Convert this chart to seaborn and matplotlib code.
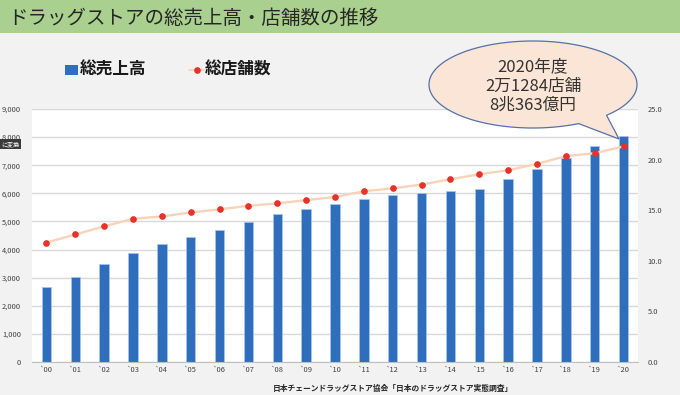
import numpy as np
import pandas as pd
import matplotlib
matplotlib.use("Agg")
import matplotlib.pyplot as plt
import seaborn as sns
from matplotlib.patches import Rectangle, Polygon
from matplotlib.lines import Line2D
from matplotlib.ticker import FuncFormatter, FixedLocator

# ---------------- data ----------------
years = ["`00", "`01", "`02", "`03", "`04", "`05", "`06", "`07", "`08", "`09", "`10",
         "`11", "`12", "`13", "`14", "`15", "`16", "`17", "`18", "`19", "`20"]
# total sales (unit: 10億円)
sales = [2655, 3012, 3500, 3893, 4214, 4464, 4679, 4976, 5250, 5452, 5631,
         5810, 5940, 6012, 6083, 6143, 6500, 6857, 7274, 7690, 8036]
# total stores (unit: 1000 stores)
stores = [11.8, 12.6, 13.4, 14.15, 14.38, 14.78, 15.08, 15.44, 15.67, 16.0, 16.3,
          16.87, 17.16, 17.53, 18.06, 18.55, 18.95, 19.58, 20.34, 20.63, 21.3]

title = "ドラッグストアの総売上高・店舗数の推移"
legend_labels = ["総売上高", "総店舗数"]
callout_lines = ["2020年度", "2万1284店舗", "8兆363億円"]
source = "日本チェーンドラッグストア協会「日本のドラッグストア実態調査」"
left_ticks = list(range(0, 9001, 1000))
right_ticks = [0, 5, 10, 15, 20, 25]

df = pd.DataFrame({"year": years, "sales": sales, "stores": stores})

# ---------------- style ----------------
sns.set_style("white")
plt.rcParams["font.family"] = ["Noto Sans CJK JP", "DejaVu Sans"]

W, H = 680, 395
fig = plt.figure(figsize=(W / 100, H / 100), dpi=100, facecolor="#f2f2f2")

BAR = "#2e6ebd"
LINE = "#f9d3b8"
DOT = "#e8312a"
TICK = "#404040"

L, R, T, B = 32, 638, 109, 362
ax = fig.add_axes([L / W, 1 - B / H, (R - L) / W, (B - T) / H])
ax.set_facecolor("white")

sns.barplot(data=df, x="year", y="sales", ax=ax, color=BAR, width=0.33,
            saturation=1, edgecolor="#a8c6ea", linewidth=0.5, zorder=2)
ax.set_xlim(-0.5, len(years) - 0.5)
ax.set_ylim(0, 9000)
ax.yaxis.set_major_locator(FixedLocator(left_ticks))
ax.yaxis.set_major_formatter(FuncFormatter(lambda v, p: f"{int(v):,}"))
ax.grid(axis="y", color="#d9d9d9", linewidth=1, zorder=0)
ax.set_axisbelow(True)
for s in ["left", "right", "top"]:
    ax.spines[s].set_visible(False)
ax.spines["bottom"].set_color("#bfbfbf")
ax.spines["bottom"].set_linewidth(0.8)
ax.set_xlabel("")
ax.set_ylabel("")
ax.tick_params(axis="y", length=0, pad=8, labelsize=5.4, labelcolor=TICK)
ax.tick_params(axis="x", which="major", length=0, pad=3, labelsize=5.4, labelcolor=TICK)
ax.set_xticks(np.arange(-0.5, len(years), 1.0), minor=True)
ax.tick_params(axis="x", which="minor", length=3, color="#bfbfbf", width=0.8)

ax2 = ax.twinx()
ax2.set_facecolor("none")
sns.lineplot(x=np.arange(len(years)), y=df["stores"], ax=ax2, color=LINE, linewidth=1.7,
             marker="o", markersize=4.0, markerfacecolor=DOT, markeredgecolor=DOT,
             zorder=3)
ax2.set_ylim(0, 25)
ax2.yaxis.set_major_locator(FixedLocator(right_ticks))
ax2.yaxis.set_major_formatter(FuncFormatter(lambda v, p: f"{v:.1f}"))
for s in ["left", "right", "top", "bottom"]:
    ax2.spines[s].set_visible(False)
ax2.set_ylabel("")
ax2.tick_params(axis="y", length=0, pad=7, labelsize=5.4, labelcolor=TICK)
ax2.set_xlim(-0.5, len(years) - 0.5)

# ---------------- overlay (pixel coordinates) ----------------
ov = fig.add_axes([0, 0, 1, 1])
ov.set_xlim(0, W)
ov.set_ylim(H, 0)
ov.axis("off")
ov.set_zorder(10)
ov.patch.set_visible(False)

# title bar
ov.add_patch(Rectangle((0, 0), W, 33, facecolor="#a9d08e", edgecolor="none"))
ov.text(8, 18, title, fontsize=14, color="#262626", va="center", ha="left")

# legend
ov.add_patch(Rectangle((65, 65), 13, 9.5, facecolor=BAR, edgecolor="none"))
ov.text(80, 70, legend_labels[0], fontsize=12, fontweight="bold", color="#1a1a1a",
        va="center", ha="left")
ov.add_line(Line2D([189, 204], [69.5, 69.5], color=LINE, linewidth=1.3))
ov.add_line(Line2D([197], [69.5], marker="o", markersize=3.8, color=DOT))
ov.text(205, 70, legend_labels[1], fontsize=12, fontweight="bold", color="#1a1a1a",
        va="center", ha="left")

# callout bubble
cx, cy, a, b = 533, 84.5, 104, 43.5
t = np.radians(np.linspace(64, 45 + 360, 200))
pts = list(zip(cx + a * np.cos(t), cy + b * np.sin(t)))
pts.append((619, 139))
ov.add_patch(Polygon(pts, closed=True, facecolor="#fbe5d6", edgecolor="#5571a8",
                     linewidth=0.9))
for i, line in enumerate(callout_lines):
    ov.text(533, 67 + i * 19.3, line, fontsize=12, color="#333333",
            ha="center", va="center")

# small UI label on left
ov.text(1, 144, "に変換", fontsize=4.3, color="white", ha="left", va="center",
        bbox=dict(boxstyle="square,pad=0.35", facecolor="#3a3a3a", edgecolor="none"))

# source
ov.text(393, 388, source, fontsize=5.6, fontweight="bold", color="#262626",
        ha="center", va="center")

fig.savefig("out.png", dpi=100, facecolor=fig.get_facecolor())
